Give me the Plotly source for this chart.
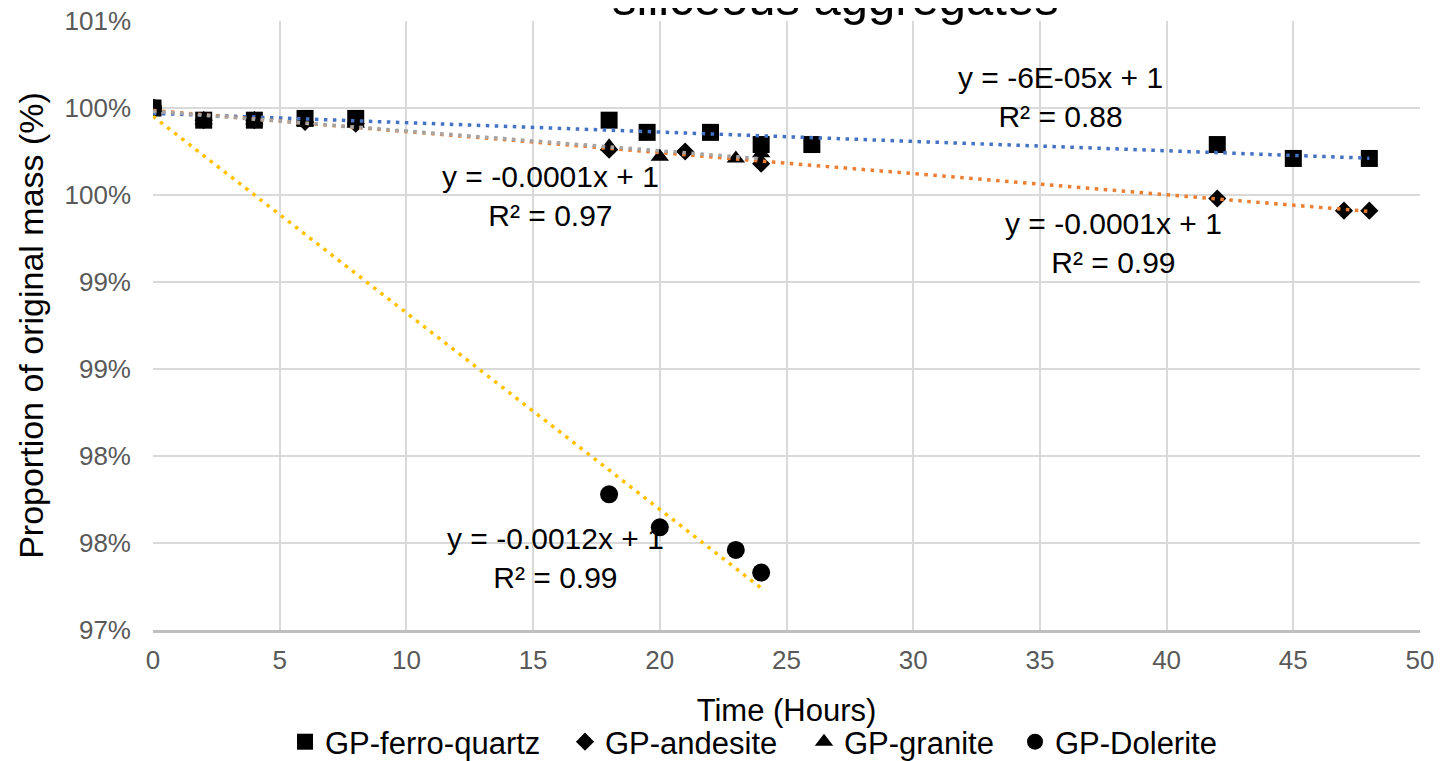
import numpy as np
import plotly.graph_objects as go

# ---------------- data ----------------
hours_fq = [0, 2, 4, 6, 8, 18, 19.5, 22, 24, 26, 42, 45, 48]
mass_fq = [1.0, 0.9993, 0.9993, 0.9994, 0.9994, 0.9993, 0.9986, 0.9986, 0.9979, 0.9979, 0.9979, 0.9971, 0.9971]

hours_and = [0, 2, 4, 6, 8, 18, 21, 24, 42, 47, 48]
mass_and = [1.0, 0.9993, 0.9993, 0.9992, 0.9991, 0.9976, 0.9975, 0.9968, 0.9948, 0.9941, 0.9941]

hours_gr = [0, 2, 4, 6, 8, 18, 20, 23, 24]
mass_gr = [1.0, 0.9993, 0.9993, 0.9992, 0.9991, 0.9978, 0.9972, 0.9971, 0.9974]

hours_dol = [0, 18, 20, 23, 24]
mass_dol = [1.0, 0.9778, 0.9759, 0.9746, 0.9733]

series_names = ["GP-ferro-quartz", "GP-andesite", "GP-granite", "GP-Dolerite"]
trend_labels = [
    "y = -6E-05x + 1<br>R² = 0.88",
    "y = -0.0001x + 1<br>R² = 0.99",
    "y = -0.0001x + 1<br>R² = 0.97",
    "y = -0.0012x + 1<br>R² = 0.99",
]
# label anchor positions (data units)
label_x = [35.8, 37.9, 15.7, 15.9]
label_y = [1.00063, 0.99224, 0.99494, 0.97414]

y_tickvals = [0.97, 0.975, 0.98, 0.985, 0.99, 0.995, 1.0, 1.005]
y_ticktext = ["97%", "98%", "98%", "99%", "99%", "100%", "100%", "101%"]

# ---------------- figure ----------------
# the page body has an 8px default margin, so the figure is sized/offset for it
FONT = "Liberation Sans, Arial, sans-serif"
symbols = ["square", "diamond", "triangle-up", "circle"]
sizes = [17, 14, 16, 18]
trend_colors = ["#4472C4", "#ED7D31", "#A5A5A5", "#FFC000"]
legend_ids = ["legend", "legend2", "legend3", "legend4"]
# left edge of each legend entry (paper fraction of plot width)
legend_x = [(285 - 153) / 1267, (565 - 153) / 1267, (804 - 153) / 1267, (1015 - 153) / 1267]
xs = [hours_fq, hours_and, hours_gr, hours_dol]
ys = [mass_fq, mass_and, mass_gr, mass_dol]

fig = go.Figure()

for i in range(4):
    fig.add_trace(go.Scatter(
        x=xs[i], y=ys[i], mode="markers", name=series_names[i],
        legend=legend_ids[i],
        marker=dict(symbol=symbols[i], size=sizes[i], color="#000000",
                    line=dict(width=0)),
    ))

# linear trendlines (least squares) drawn on top
for i in [0, 1, 2, 3]:
    slope, icpt = np.polyfit(xs[i], ys[i], 1)
    tx = np.array([0, max(xs[i])], dtype=float)
    fig.add_trace(go.Scatter(
        x=tx, y=slope * tx + icpt, mode="lines", showlegend=False,
        hoverinfo="skip",
        line=dict(color=trend_colors[i], width=3.5, dash="3.5px,5.5px"),
    ))

for i in range(4):
    fig.add_annotation(
        x=label_x[i], y=label_y[i], xref="x", yref="y", text=trend_labels[i],
        showarrow=False, font=dict(family=FONT, size=30, color="#000000"),
        align="center",
    )

# partially visible title (cut off at top in the original)
fig.add_annotation(
    x=(835 - 153) / 1267, y=1.0, xref="paper", yref="paper",
    xanchor="center", yanchor="bottom", yshift=-6,
    text="siliceous aggregates", showarrow=False,
    font=dict(family=FONT, size=49, color="#000000"),
)

legend_common = dict(
    orientation="h", y=-0.184, yanchor="middle", xanchor="left",
    font=dict(family=FONT, size=31, color="#000000"),
    itemwidth=30, bgcolor="rgba(0,0,0,0)", borderwidth=0,
)

fig.update_layout(
    width=1435, height=753,
    margin=dict(l=145, r=23, t=13, b=131, autoexpand=False),
    paper_bgcolor="#FFFFFF", plot_bgcolor="#FFFFFF",
    font=dict(family=FONT, color="#000000"),
    showlegend=True,
    legend=dict(x=legend_x[0], **legend_common),
    legend2=dict(x=legend_x[1], **legend_common),
    legend3=dict(x=legend_x[2], **legend_common),
    legend4=dict(x=legend_x[3], **legend_common),
)

fig.update_xaxes(
    range=[0, 50], tick0=0, dtick=5, showgrid=True,
    gridcolor="#D9D9D9", gridwidth=2, automargin=False,
    showline=True, linecolor="#BFBFBF", linewidth=3, mirror=False,
    zeroline=False, ticks="", ticklabelstandoff=5, ticklabeloverflow="allow",
    tickfont=dict(family=FONT, size=26, color="#595959"),
    title=dict(text="Time (Hours)", font=dict(family=FONT, size=31, color="#000000"),
               standoff=26),
)
fig.update_yaxes(
    range=[0.97, 1.005], tickvals=y_tickvals, ticktext=y_ticktext,
    showgrid=True, gridcolor="#D9D9D9", gridwidth=2, automargin=False,
    showline=False, zeroline=False, ticks="", ticklabelstandoff=21,
    ticklabeloverflow="allow",
    tickfont=dict(family=FONT, size=26, color="#595959"),
    title=dict(text="Proportion of original mass (%)",
               font=dict(family=FONT, size=34, color="#000000"), standoff=10),
)

fig.write_html("out.html")
